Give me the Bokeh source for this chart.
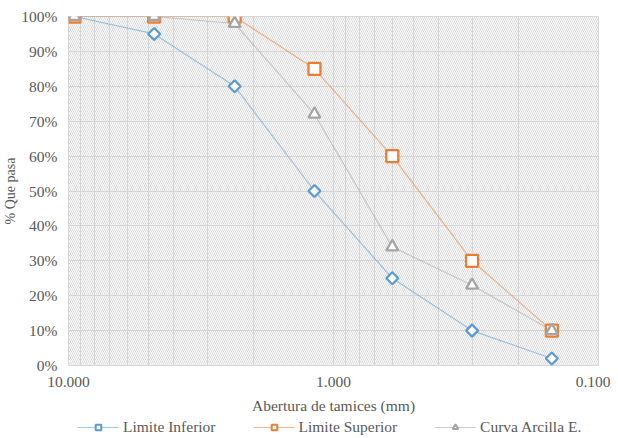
from bokeh.plotting import figure
from bokeh.models import (Range1d, FixedTicker, CustomJSTickFormatter, BoxAnnotation,
                          Legend, LegendItem)
from bokeh.layouts import column
from bokeh.embed import file_html
from bokeh.resources import INLINE
import math

sizes = [9.5, 4.75, 2.36, 1.18, 0.6, 0.3, 0.15]
limite_inferior = [100, 95, 80, 50, 25, 10, 2]
limite_superior = [100, 100, 100, 85, 60, 30, 10]
curva_arcilla = [100, 100, 98, 72, 34, 23, 10]
y_ticks = [0, 10, 20, 30, 40, 50, 60, 70, 80, 90, 100]
x_major = [10, 1, 0.1]
x_minor = [m * d for d in (1, 0.1) for m in (2, 3, 4, 5, 6, 7, 8, 9)]
series_names = ["Limite Inferior", "Limite Superior", "Curva Arcilla E."]

FONT = "Liberation Serif"
TXT = "#595959"
GRID = "#d9d9d9"
FS = "15.5px"
W = 610

p = figure(width=W, height=419, x_axis_type="log",
           x_range=Range1d(10, 0.1), y_range=Range1d(0, 100),
           output_backend="svg", toolbar_location=None,
           min_border_left=63, min_border_right=12, min_border_top=16, min_border_bottom=54)

p.outline_line_color = GRID
p.background_fill_color = "white"

hatch = BoxAnnotation(fill_color=None, line_color=None, hatch_pattern="\\",
                      hatch_color="#d0d0d0", hatch_scale=4, hatch_weight=0.8,
                      level="underlay")
p.add_layout(hatch)

p.xaxis.ticker = FixedTicker(ticks=x_major, minor_ticks=x_minor)
p.xaxis.formatter = CustomJSTickFormatter(code="return tick.toFixed(3);")
p.yaxis.ticker = FixedTicker(ticks=y_ticks)
p.yaxis.formatter = CustomJSTickFormatter(code="return tick.toFixed(0) + '%';")

for ax in (p.xaxis[0], p.yaxis[0]):
    ax.axis_line_color = None
    ax.major_tick_line_color = None
    ax.minor_tick_line_color = None
    ax.major_tick_out = 0
    ax.minor_tick_out = 0
    ax.major_label_text_font = FONT
    ax.major_label_text_font_size = FS
    ax.major_label_text_color = TXT
    ax.axis_label_text_font = FONT
    ax.axis_label_text_font_size = FS
    ax.axis_label_text_color = TXT
    ax.axis_label_text_font_style = "normal"

p.yaxis.axis_label_text_font_size = "14px"
p.xaxis.axis_label = "Abertura de tamices (mm)"
p.yaxis.axis_label = "% Que pasa"
p.xaxis.major_label_standoff = 11
p.xaxis.axis_label_standoff = 7
p.yaxis.major_label_standoff = 11
p.yaxis.axis_label_standoff = 0

p.xgrid.grid_line_color = GRID
p.xgrid.minor_grid_line_color = GRID
p.ygrid.grid_line_color = GRID

styles = [
    dict(color="#5b9bd5", marker="square", angle=math.pi / 4, size=8.5, lsize=5.5),
    dict(color="#ed7d31", marker="square", angle=0.0, size=12, lsize=8),
    dict(color="#a5a5a5", marker="triangle", angle=0.0, size=12, lsize=8),
]
series = [limite_inferior, limite_superior, curva_arcilla]

for vals, st in zip(series, styles):
    p.line(sizes, vals, line_color=st["color"], line_alpha=0.55, line_width=1.2)
    p.scatter(sizes, vals, marker=st["marker"], angle=st["angle"], size=st["size"],
              fill_color="white", line_color=st["color"], line_width=2.3)

# legend in its own strip (same series, plotted outside the strip's visible range)
q = figure(width=W, height=18, x_range=Range1d(1000, 1001), y_range=Range1d(1000, 1001),
           output_backend="svg", toolbar_location=None,
           min_border_left=0, min_border_right=0, min_border_top=0, min_border_bottom=0)
q.axis.visible = False
q.grid.visible = False
q.outline_line_color = None
items = []
for name, vals, st in zip(series_names, series, styles):
    lr = q.line(sizes, vals, line_color=st["color"], line_alpha=0.55, line_width=1.2)
    sr = q.scatter(sizes, vals, marker=st["marker"], angle=st["angle"], size=st["lsize"],
                   fill_color="white", line_color=st["color"], line_width=2)
    items.append(LegendItem(label=name, renderers=[lr, sr]))
legend = Legend(items=items, orientation="horizontal", location=(9, 1),
                label_text_font=FONT, label_text_font_size=FS, label_text_color=TXT,
                glyph_width=42, glyph_height=14, label_standoff=4, spacing=37,
                label_height=14, padding=0, margin=0, border_line_color=None,
                background_fill_alpha=0)
q.add_layout(legend, "center")

layout = column(p, q, spacing=0)
open("out.html", "w").write(file_html(layout, INLINE))
